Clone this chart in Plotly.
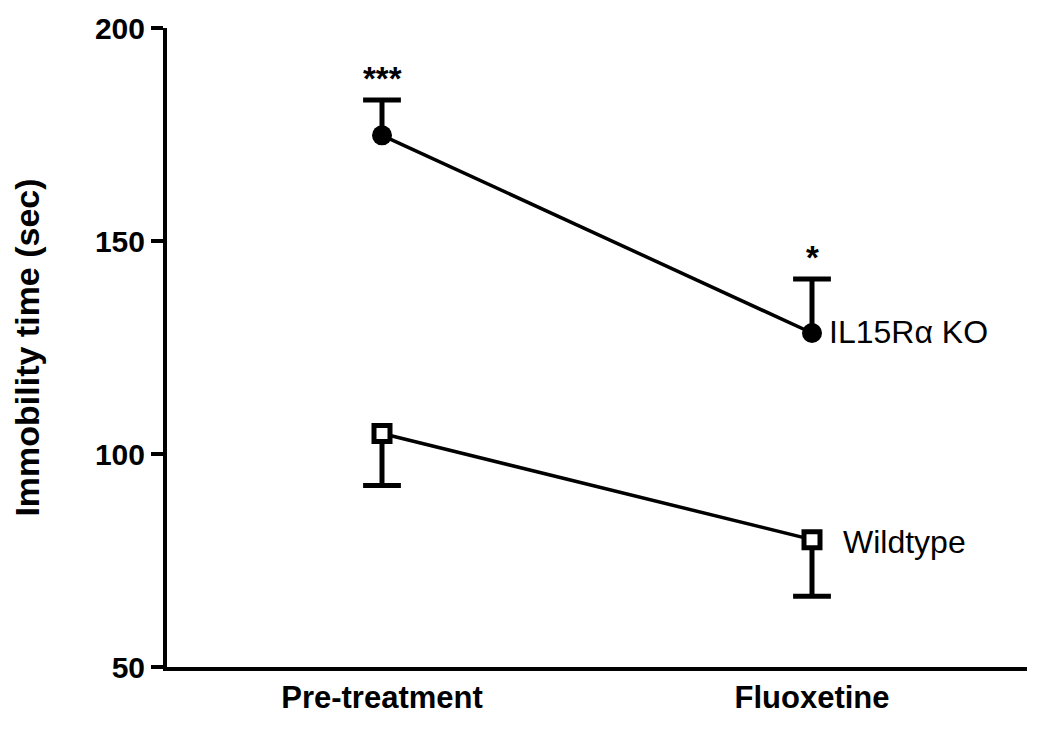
import plotly.graph_objects as go

# data
categories = ["Pre-treatment", "Fluoxetine"]
ko_mean = [174.8, 128.4]
ko_sem_up = [8.3, 12.7]
wt_mean = [104.8, 79.9]
wt_sem_down = [12.2, 13.3]
ko_stars = ["***", "*"]

x_pos = [0, 1]
FONT = "Liberation Sans, Arial, sans-serif"

fig = go.Figure()

# one-sided error bars: stem from the mean to the end, cap only at the end
ko_top = [m + e for m, e in zip(ko_mean, ko_sem_up)]
wt_bot = [m - e for m, e in zip(wt_mean, wt_sem_down)]
for means, ends in [(ko_mean, ko_top), (wt_mean, wt_bot)]:
    sx, sy = [], []
    for xi, m, e in zip(x_pos, means, ends):
        sx += [xi, xi, None]
        sy += [m, e, None]
    fig.add_trace(go.Scatter(x=sx, y=sy, mode="lines",
                             line=dict(color="black", width=5),
                             hoverinfo="skip", cliponaxis=False))
    fig.add_trace(go.Scatter(x=x_pos, y=ends, mode="markers",
                             marker=dict(symbol="line-ew-open", size=27, color="black",
                                         line=dict(color="black", width=5)),
                             hoverinfo="skip", cliponaxis=False))

# IL15Ra KO - filled circles
fig.add_trace(go.Scatter(
    x=x_pos, y=ko_mean, mode="lines+markers", name="IL15Rα KO",
    line=dict(color="black", width=3.5),
    marker=dict(symbol="circle", size=20, color="black"),
    cliponaxis=False,
))

# Wildtype - open squares
fig.add_trace(go.Scatter(
    x=x_pos, y=wt_mean, mode="lines+markers", name="Wildtype",
    line=dict(color="black", width=3.5),
    marker=dict(symbol="square", size=16, color="white",
                line=dict(color="black", width=5)),
    cliponaxis=False,
))

# significance stars above the KO error bars
for xi, top, s in zip(x_pos, ko_top, ko_stars):
    fig.add_annotation(x=xi, y=top, text=s, showarrow=False,
                       yanchor="bottom", yshift=1,
                       font=dict(family=FONT, size=33, color="black", weight="bold"))

# series labels at the right end
fig.add_annotation(x=1, y=ko_mean[1], text="IL15Rα KO", showarrow=False,
                   xanchor="left", xshift=15, yshift=1,
                   font=dict(family=FONT, size=32, color="black"))
fig.add_annotation(x=1, y=wt_mean[1], text="Wildtype", showarrow=False,
                   xanchor="left", xshift=29, yshift=-2,
                   font=dict(family=FONT, size=32, color="black"))

# x axis line pokes out a little to the left of the y axis
fig.add_shape(type="line", xref="paper", yref="y", x0=-0.016, x1=0, y0=50, y1=50,
              line=dict(color="black", width=4))

fig.update_xaxes(
    range=[-0.5, 1.5], tickvals=x_pos, ticktext=categories,
    showline=True, linecolor="black", linewidth=4, ticks="",
    showgrid=False, zeroline=False, automargin=False,
    tickfont=dict(family=FONT, size=31, color="black", weight="bold"),
)
fig.update_yaxes(
    range=[50, 200], tickvals=[50, 100, 150, 200],
    showline=True, linecolor="black", linewidth=4,
    ticks="outside", ticklen=12, tickwidth=4, tickcolor="black",
    showgrid=False, zeroline=False, automargin=False,
    tickfont=dict(family=FONT, size=30, color="black", weight="bold"),
    title=dict(text="Immobility time (sec)", standoff=46,
               font=dict(family=FONT, size=34, color="black", weight="bold")),
)

# page body adds an 8px offset, so margins are shifted to keep the plot area in place
fig.update_layout(
    width=1050, height=729,
    margin=dict(l=159, r=31, t=20, b=70),
    plot_bgcolor="white", paper_bgcolor="white",
    showlegend=False,
)

fig.write_html("out.html")
